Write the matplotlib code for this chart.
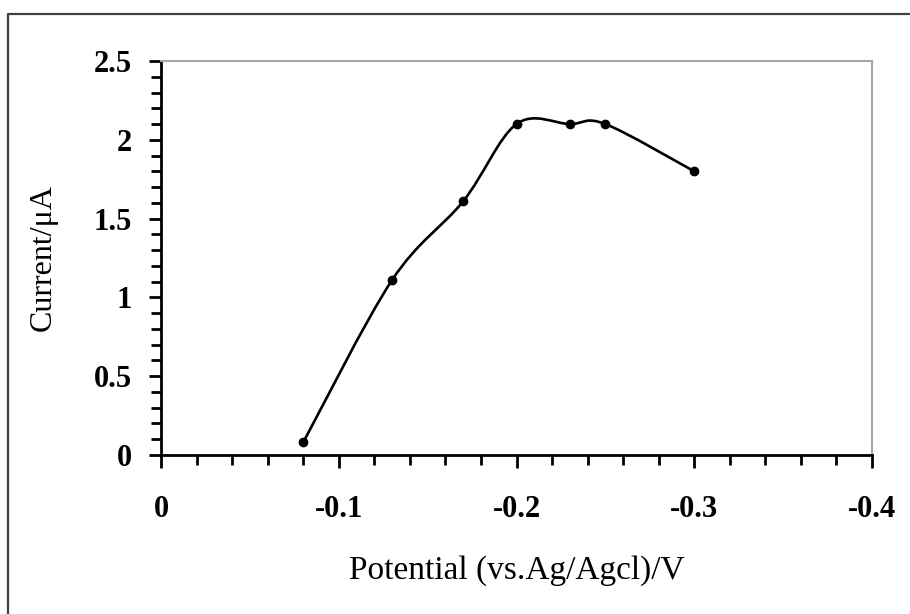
import matplotlib
matplotlib.use("Agg")
import matplotlib.pyplot as plt
from matplotlib.path import Path
from matplotlib.patches import PathPatch
from matplotlib.lines import Line2D
from matplotlib.ticker import MultipleLocator

# data
potential = [-0.08, -0.13, -0.17, -0.20, -0.23, -0.25, -0.30]
current = [0.08, 1.11, 1.61, 2.10, 2.10, 2.10, 1.80]

x_ticks = [0, -0.1, -0.2, -0.3, -0.4]
x_tick_labels = ["0", "-0.1", "-0.2", "-0.3", "-0.4"]
y_ticks = [0, 0.5, 1, 1.5, 2, 2.5]
y_tick_labels = ["0", "0.5", "1", "1.5", "2", "2.5"]

plt.rcParams['font.family'] = ['Liberation Serif', 'DejaVu Serif']

W, H = 910, 614
fig = plt.figure(figsize=(W / 100, H / 100), dpi=100)
ax = fig.add_axes([161 / W, 1 - 455 / H, (872 - 161) / W, (455 - 61) / H])


def smooth_path(xs, ys):
    # excel-like smoothed line: catmull-rom segments as cubic beziers
    pts = list(zip(xs, ys))
    n = len(pts)
    verts = [pts[0]]
    codes = [Path.MOVETO]
    for i in range(n - 1):
        p0 = pts[i - 1] if i > 0 else pts[i]
        p1 = pts[i]
        p2 = pts[i + 1]
        p3 = pts[i + 2] if i + 2 < n else pts[i + 1]
        c1 = (p1[0] + (p2[0] - p0[0]) / 6, p1[1] + (p2[1] - p0[1]) / 6)
        c2 = (p2[0] - (p3[0] - p1[0]) / 6, p2[1] - (p3[1] - p1[1]) / 6)
        verts += [c1, c2, p2]
        codes += [Path.CURVE4] * 3
    return Path(verts, codes)


ax.add_patch(PathPatch(smooth_path(potential, current), fill=False,
                       edgecolor="black", lw=1.9, capstyle="round"))
ax.plot(potential, current, "o", color="black", markersize=6)

ax.set_xlim(0, -0.4)
ax.set_ylim(0, 2.5)
ax.set_xticks(x_ticks)
ax.set_xticklabels(x_tick_labels, fontweight="bold", fontsize=22)
ax.set_yticks(y_ticks)
ax.set_yticklabels(y_tick_labels, fontweight="bold", fontsize=22)
ax.xaxis.set_minor_locator(MultipleLocator(0.02))
ax.yaxis.set_minor_locator(MultipleLocator(0.1))

ax.tick_params(axis="x", which="major", direction="out", length=9, width=2, pad=20)
ax.tick_params(axis="x", which="minor", direction="out", length=7, width=2)
ax.tick_params(axis="y", which="major", direction="out", length=9, width=2, pad=12)
ax.tick_params(axis="y", which="minor", direction="out", length=7, width=2)

for s in ["left", "bottom"]:
    ax.spines[s].set_linewidth(2)
    ax.spines[s].set_color("black")
for s in ["top", "right"]:
    ax.spines[s].set_linewidth(1.5)
    ax.spines[s].set_color("#a6a6a6")

ax.set_xlabel("Potential (vs.Ag/Agcl)/V", fontsize=24, labelpad=22)
ax.set_ylabel("Current/\u03bcA", fontsize=23, labelpad=26)

# outer chart frame (only left and top edges are inside the image)
fig.add_artist(Line2D([8 / W, 8 / W, 1], [0, 1 - 14 / H, 1 - 14 / H],
                      transform=fig.transFigure, color="#404040", lw=1.6))

fig.savefig("out.png", dpi=100)
